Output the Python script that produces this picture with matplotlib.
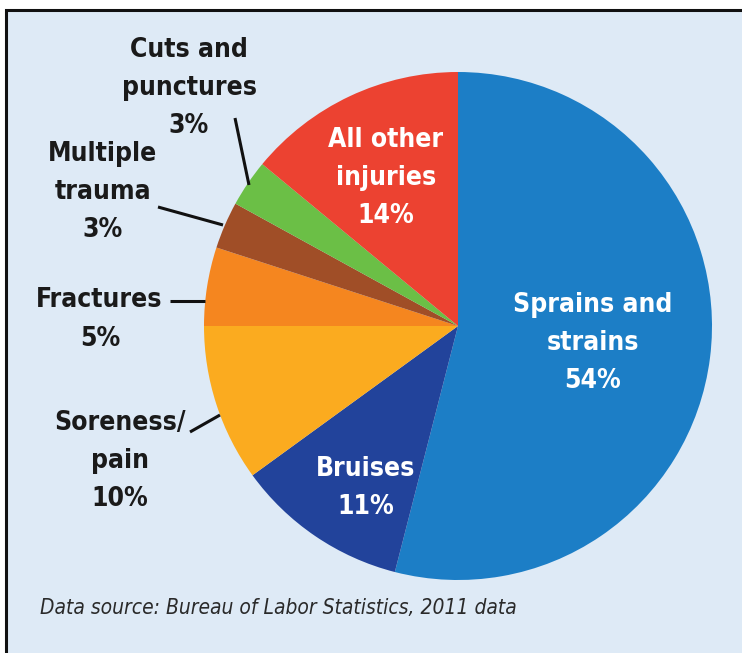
import matplotlib.pyplot as plt
from matplotlib.patches import Rectangle

# injury categories, clockwise from 12 o'clock
labels = ["Sprains and\nstrains", "Bruises", "Soreness/\npain", "Fractures",
          "Multiple\ntrauma", "Cuts and\npunctures", "All other\ninjuries"]
shares = [54, 11, 10, 5, 3, 3, 14]
colors = ["#1c7ec6", "#22439b", "#fbab1f", "#f5861f", "#a04e27", "#6bbf46", "#ec4231"]

W, H = 742, 653
plt.rcParams['font.family'] = ['DejaVu Sans']

fig = plt.figure(figsize=(W / 100, H / 100), dpi=100)
fig.patch.set_facecolor("white")
ax = fig.add_axes([0, 0, 1, 1])

cx, cy, r = 458, H - 326, 254
ax.pie(shares, colors=colors, startangle=90, counterclock=False,
       center=(cx, cy), radius=r, frame=True, wedgeprops=dict(linewidth=0))
ax.set_xlim(0, W)
ax.set_ylim(0, H)
ax.set_aspect("equal")
ax.axis("off")

# framed light-blue panel (runs off the right and bottom edges)
ax.add_patch(Rectangle((6, -20), W + 20, H + 10, facecolor="#deeaf6",
                       edgecolor="#111111", lw=2.2, zorder=0))

fs = 19
txt = dict(fontsize=fs, fontweight="bold", fontstretch="condensed",
           ha="center", va="center", linespacing=1.58)
inside = {0: (593, H - 343), 1: (366, H - 488), 6: (386, H - 178)}
for i, (x, y) in inside.items():
    ax.text(x, y, f"{labels[i]}\n{shares[i]}%", color="white", **txt)

outside = {5: (189, H - 88), 4: (103, H - 192), 2: (120, H - 461)}
for i, (x, y) in outside.items():
    ax.text(x, y, f"{labels[i]}\n{shares[i]}%", color="#1a1a1a", **txt)
ax.text(99, H - 300, labels[3], color="#1a1a1a", **txt)
ax.text(100, H - 339, f"{shares[3]}%", color="#1a1a1a", **txt)

# leader lines
leaders = [((235, 118), (249, 185)), ((158, 207), (223, 225)),
           ((170, 301), (205, 301)), ((190, 432), (220, 415))]
for (x0, y0), (x1, y1) in leaders:
    ax.plot([x0, x1], [H - y0, H - y1], color="#111111", lw=2.2, solid_capstyle="butt")

ax.text(40, H - 608, "Data source: Bureau of Labor Statistics, 2011 data",
        fontsize=15, style="italic", fontstretch="condensed", color="#2a2a2a",
        ha="left", va="center")

fig.savefig("out.png", dpi=100, facecolor="white")
